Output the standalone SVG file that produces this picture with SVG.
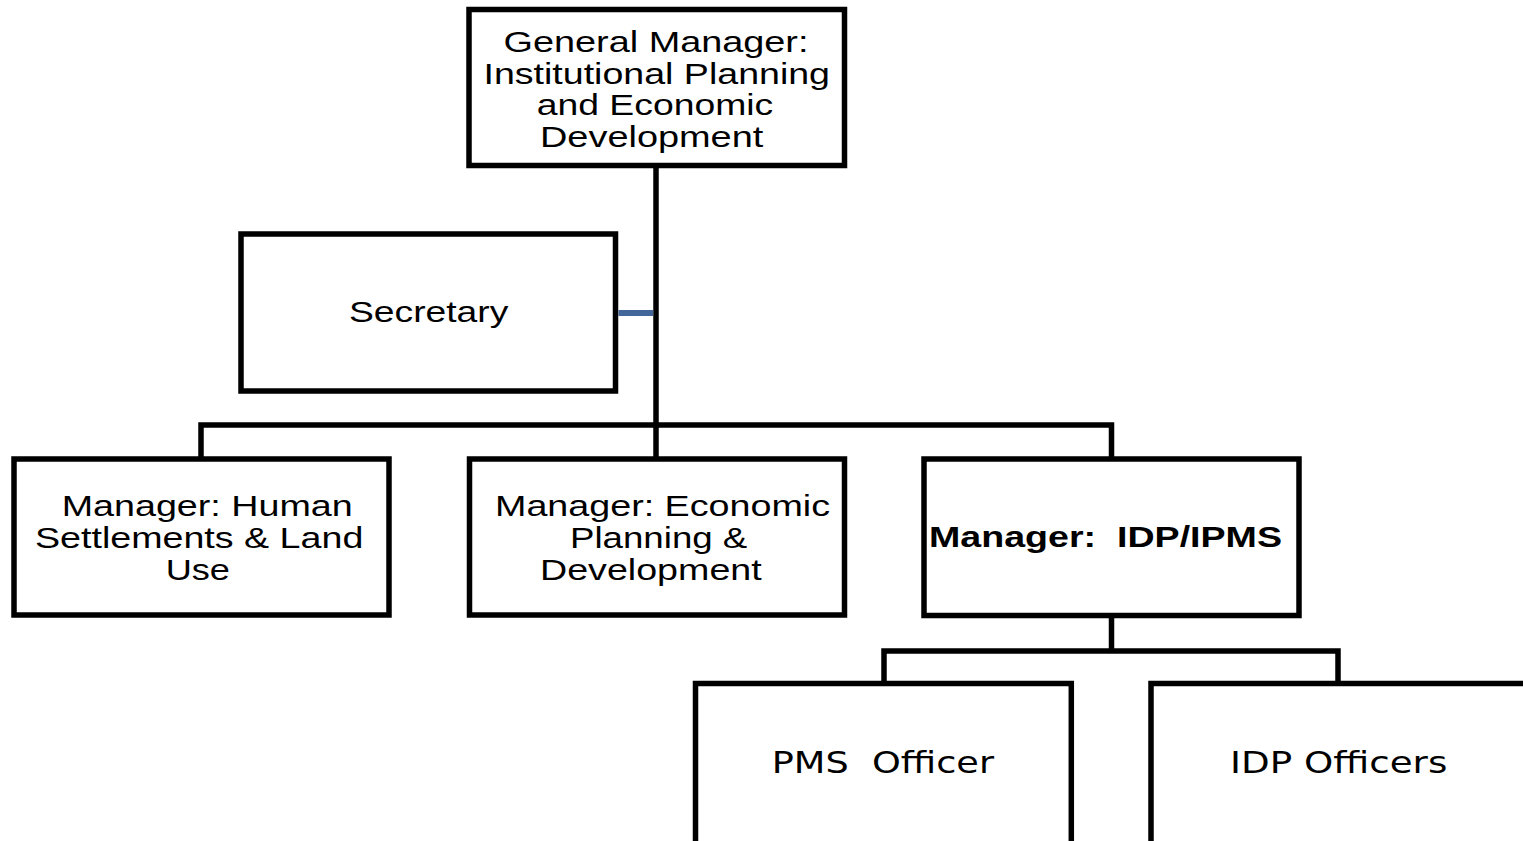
<svg xmlns="http://www.w3.org/2000/svg" width="1523" height="841" viewBox="0 0 1523 841">
<style>
.box{fill:#ffffff;stroke:#000000;stroke-width:5.5}
.con{fill:none;stroke:#000000;stroke-width:5.5;stroke-linejoin:miter}
.blue{fill:none;stroke:#44679b;stroke-width:6}
.t{font-family:"Liberation Sans",Arial,sans-serif;font-size:30px;fill:#000000;white-space:pre}
.b{font-family:"Liberation Sans",Arial,sans-serif;font-size:30px;font-weight:bold;fill:#000000;white-space:pre}
.d{font-family:"DejaVu Sans",Verdana,sans-serif;font-size:30px;fill:#000000;white-space:pre}
</style>
<rect width="1523" height="841" fill="#ffffff"/>
<g id="connectors">
<path class="con" d="M656 165.5 V425"/>
<path class="con" d="M201 459 V425 H1111.5 V459"/>
<path class="con" d="M656 425 V459"/>
<path class="blue" d="M618.5 313 H653"/>
<path class="con" d="M1111.5 615.5 V651"/>
<path class="con" d="M884 683.5 V651 H1338 V683.5"/>
</g>
<g id="gm">
<rect class="box" x="469" y="9.5" width="375.5" height="156"/>
<text class="t" x="503.5" y="51.7" textLength="305" lengthAdjust="spacingAndGlyphs">General Manager:</text>
<text class="t" x="483.5" y="83.5" textLength="346.5" lengthAdjust="spacingAndGlyphs">Institutional Planning</text>
<text class="t" x="536.7" y="115" textLength="236.6" lengthAdjust="spacingAndGlyphs">and Economic</text>
<text class="t" x="540" y="146.7" textLength="223.3" lengthAdjust="spacingAndGlyphs">Development</text>
</g>
<g id="secretary">
<rect class="box" x="241" y="234" width="374.5" height="157"/>
<text class="t" x="349" y="321.7" textLength="159.3" lengthAdjust="spacingAndGlyphs">Secretary</text>
</g>
<g id="hs">
<rect class="box" x="14" y="459" width="375" height="156"/>
<text class="t" x="61.7" y="516" textLength="291" lengthAdjust="spacingAndGlyphs">Manager: Human</text>
<text class="t" x="35" y="548.3" textLength="328.3" lengthAdjust="spacingAndGlyphs">Settlements &amp; Land</text>
<text class="t" x="165.7" y="580" textLength="64.3" lengthAdjust="spacingAndGlyphs">Use</text>
</g>
<g id="epd">
<rect class="box" x="469.5" y="459" width="375" height="156"/>
<text class="t" x="495" y="516" textLength="335" lengthAdjust="spacingAndGlyphs">Manager: Economic</text>
<text class="t" x="570" y="548.3" textLength="177.3" lengthAdjust="spacingAndGlyphs">Planning &amp;</text>
<text class="t" x="540" y="580" textLength="221.7" lengthAdjust="spacingAndGlyphs">Development</text>
</g>
<g id="idp">
<rect class="box" x="924" y="459" width="375" height="156.5"/>
<text class="b" x="929" y="546.7" textLength="353" lengthAdjust="spacingAndGlyphs">Manager:  IDP/IPMS</text>
</g>
<g id="pms">
<rect class="box" x="695.5" y="683.5" width="375.8" height="170"/>
<text class="d" x="771.7" y="773.3" textLength="222.3" lengthAdjust="spacingAndGlyphs">PMS  Officer</text>
</g>
<g id="idpo">
<rect class="box" x="1151" y="683.5" width="380" height="170"/>
<text class="d" x="1230" y="773.3" textLength="217.3" lengthAdjust="spacingAndGlyphs">IDP Officers</text>
</g>
</svg>
